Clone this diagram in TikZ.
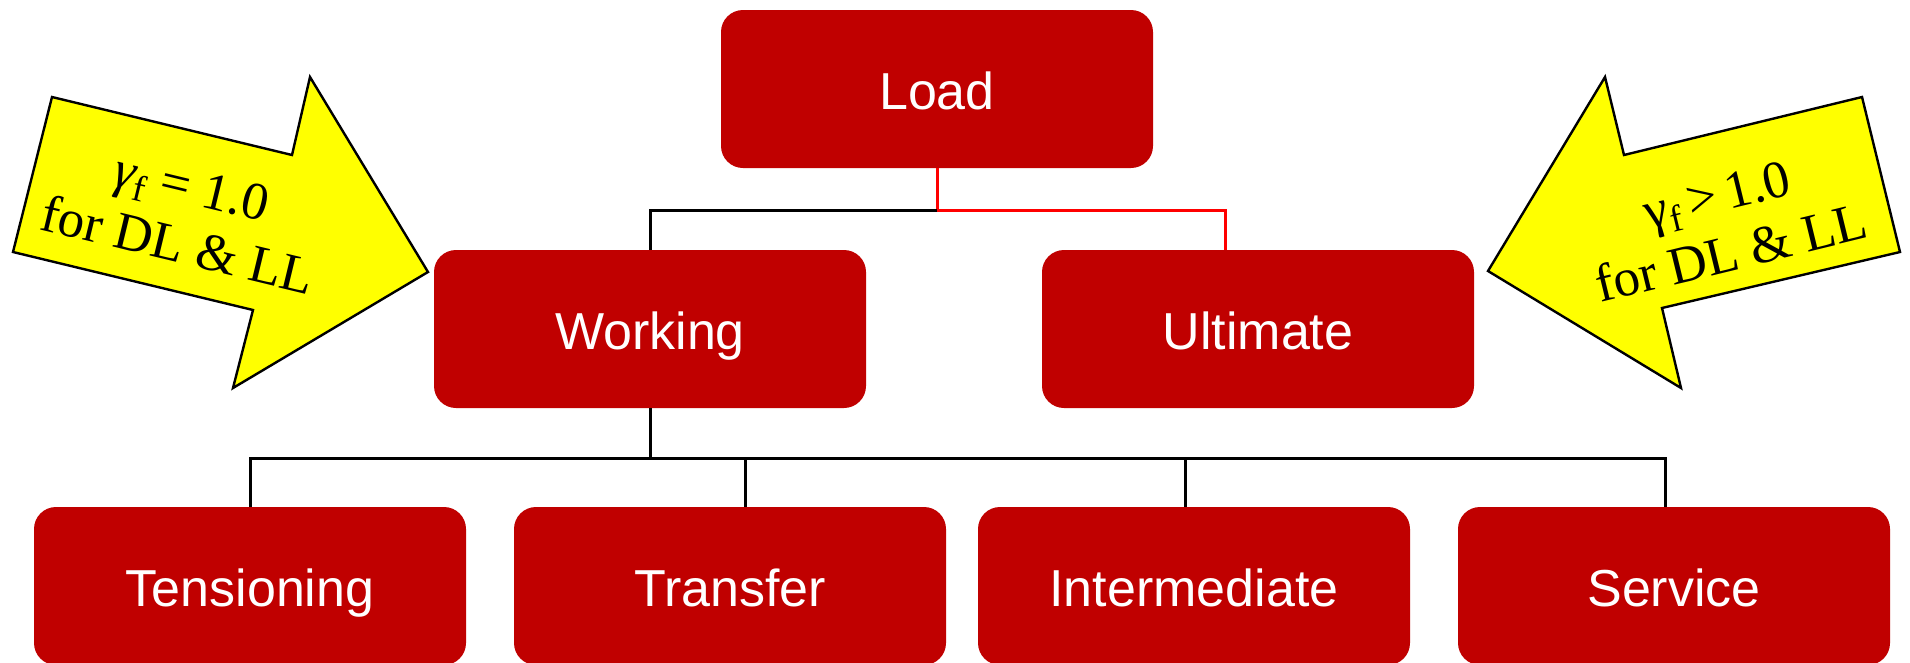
\documentclass[tikz,border=0pt]{standalone}
\usepackage{fontspec}
\setmainfont{Liberation Serif}
\newfontfamily\labelsans{Liberation Sans}
\usetikzlibrary{calc}
\definecolor{boxred}{RGB}{192,0,0}
\definecolor{linkred}{RGB}{255,0,0}
\definecolor{noteyellow}{RGB}{255,255,0}
\newcommand{\gsub}[1]{\raisebox{-9pt}{\fontsize{37}{37}\selectfont #1}}
\begin{document}
\begin{tikzpicture}[x=1pt,y=-1pt,
  stage/.style={draw=none, fill=boxred, rounded corners=22pt,
    minimum width=432pt, minimum height=158pt, inner sep=0pt,
    text height=41pt, text depth=0pt,
    text=white, font=\labelsans\fontsize{52}{60}\selectfont},
  link/.style={line width=3pt, draw=black},
  redlink/.style={line width=3pt, draw=linkred},
  note/.style={fill=noteyellow, draw=black, line width=2.4pt, line join=miter},
  notetext/.style={align=center, font=\fontsize{53}{60}\selectfont, inner sep=0pt}]
\useasboundingbox (0,0) rectangle (1910,662);
\clip (0,0) rectangle (1910,662);

% yellow block arrows with the load factors
\draw[note] (52,97) -- (292,155) -- (310,77) -- (428,272) -- (233,388)
  -- (253,310) -- (13,252) -- cycle;
\node[notetext, rotate=-13.6] (leftnote) at (185,216)
  {\textit{γ}\gsub{f} = 1.0\\for DL \& LL};
\draw[note] (1605,77) -- (1624,155) -- (1862,97) -- (1900,252)
  -- (1662,308) -- (1681,388) -- (1488,271) -- cycle;
\node[notetext, rotate=13.7] (rightnote) at (1724,224)
  {γ\gsub{f}\,>\,1.0\\for DL \& LL};

% stages
\node[stage] (load) at (937,89) {Load};
\node[stage] (working) at (650,329) {Working};
\node[stage] (ultimate) at (1258,329) {Ultimate};
\node[stage] (tensioning) at (250,586) {Tensioning};
\node[stage] (transfer) at (730,586) {Transfer};
\node[stage] (intermediate) at (1194,586) {Intermediate};
\node[stage] (service) at (1674,586) {Service};

% connector levels and entry points
\coordinate (upperbus) at (0,210);
\coordinate (lowerbus) at (0,458);
\coordinate (ul-in) at ($(ultimate.north)+(-33,0)$);
\coordinate (tr-in) at ($(transfer.north)+(15,0)$);
\coordinate (im-in) at ($(intermediate.north)+(-9,0)$);
\coordinate (sv-in) at ($(service.north)+(-9,0)$);

% Load -> Working / Ultimate
\draw[redlink] (load.south) -- (load.south |- upperbus) -- (ul-in |- upperbus) -- (ul-in);
\draw[link] (load.south |- upperbus) -| (working.north);

% Working -> its four stages
\draw[link] (working.south) -- (working.south |- lowerbus);
\draw[link] (tensioning.north) -- (tensioning.north |- lowerbus)
  -- (sv-in |- lowerbus) -- (sv-in);
\draw[link] (tr-in) -- (tr-in |- lowerbus);
\draw[link] (im-in) -- (im-in |- lowerbus);
\end{tikzpicture}
\end{document}
